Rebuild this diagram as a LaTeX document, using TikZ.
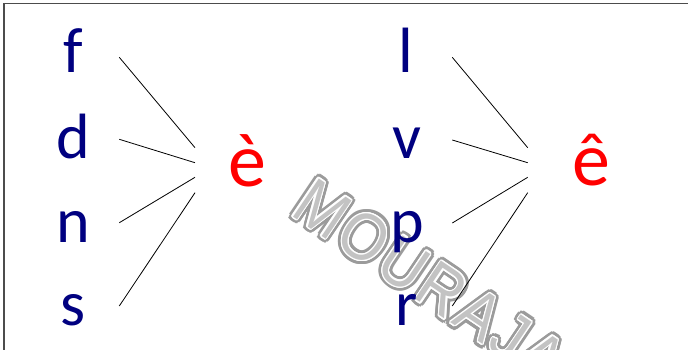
\documentclass[tikz,border=0pt]{standalone}
\usepackage{fontspec}
\setmainfont{Carlito}
\newfontfamily\wmfont[LetterSpace=6]{Liberation Sans}
\usepackage{contour}
\definecolor{navyc}{RGB}{0,0,128}
\definecolor{wmgray}{RGB}{155,155,155}
\definecolor{wminner}{RGB}{195,195,195}
\begin{document}
\begin{tikzpicture}[x=1pt,y=-1pt,
  cons/.style={font=\fontsize{64}{64}\selectfont,text=navyc,anchor=base,inner sep=0pt},
  vow/.style={font=\fontsize{76}{76}\selectfont,text=red,anchor=base,inner sep=0pt},
  wmark/.style={rotate=-34,xscale=0.88,anchor=base west,inner sep=0pt,font=\wmfont\fontsize{67}{67}\selectfont},
  link/.style={draw=black,line width=0.8pt}]
\useasboundingbox (0,0) rectangle (688,349);
\begin{scope}
\clip (0,0) rectangle (688,349);
\draw[draw=black!70,line width=1.3pt] (4,3.5) rectangle (720,380);
\node[wmark] (wm) at (289,214) {\contourlength{4.6pt}\contour{wmgray}{\textcolor{white}{MOURAJAA}}};
\node[wmark] (wm2) at (289,214) {\contourlength{1.3pt}\contour{white}{\textcolor{wminner}{MOURAJAA}}};
\end{scope}
% left group
\node[cons] (f) at (73,72) {f};
\node[cons] (d) at (73,158) {d};
\node[cons] (n) at (73,242) {n};
\node[cons] (s) at (73,325) {s};
\node[vow] (e1) at (247.5,186) {è};
\coordinate (f1) at (119.3,57.3);
\coordinate (d1) at (119.3,139.3);
\coordinate (n1) at (119.3,222.7);
\coordinate (s1) at (119.3,306);
\coordinate (ef) at (195,147.7);
\coordinate (ed) at (195,162.7);
\coordinate (en) at (195,177.3);
\coordinate (es) at (195,192.7);
\draw[link] (f1) -- (ef);
\draw[link] (d1) -- (ed);
\draw[link] (n1) -- (en);
\draw[link] (s1) -- (es);
% right group
\node[cons] (l) at (406,72) {l};
\node[cons] (v) at (407,158) {v};
\node[cons] (p) at (407,242) {p};
\node[cons] (r) at (407,325) {r};
\node[vow] (e2) at (591.5,185) {ê};
\coordinate (l1) at (452.3,57.3);
\coordinate (v1) at (452.3,140);
\coordinate (p1) at (452.3,223);
\coordinate (r1) at (452.3,306);
\coordinate (el) at (527.7,147.7);
\coordinate (ev) at (527.7,162.7);
\coordinate (ep) at (527.7,177.3);
\coordinate (er) at (527.7,192.7);
\draw[link] (l1) -- (el);
\draw[link] (v1) -- (ev);
\draw[link] (p1) -- (ep);
\draw[link] (r1) -- (er);
\end{tikzpicture}
\end{document}
